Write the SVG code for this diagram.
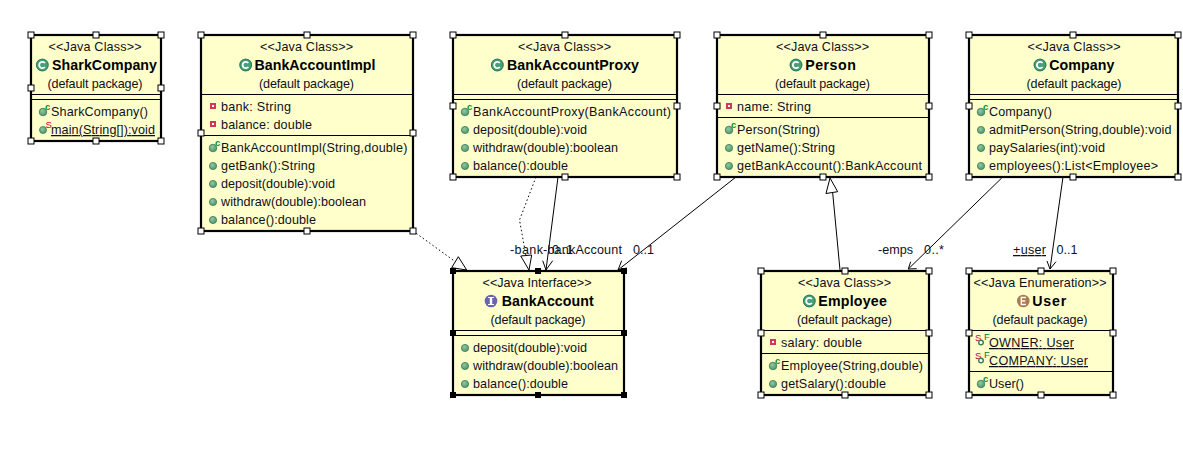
<svg xmlns="http://www.w3.org/2000/svg" width="1183" height="466" viewBox="0 0 1183 466">
<style>
text{font-family:"Liberation Sans",Arial,sans-serif;font-size:12.6px;fill:#10101a}
.c{text-anchor:middle}
.n{font-weight:700;font-size:14.200px;fill:#000}
.u{text-decoration:underline}
.box{fill:#ffffcc;stroke:#000;stroke-width:2.200}
.sep{stroke:#000;stroke-width:1;fill:none}
.h{fill:#fff;stroke:#000;stroke-width:1}
.hb{fill:#000;stroke:#000;stroke-width:1}
.ln{stroke:#000;stroke-width:1;fill:none}
.dot{stroke:#000;stroke-width:1;fill:none;stroke-dasharray:1.5 2.5}
.tri{stroke:#000;stroke-width:1;fill:#fff}
.sup{font-size:9.500px;font-weight:700}
</style>
<defs>
<radialGradient id="g" cx="40%" cy="35%" r="70%"><stop offset="0" stop-color="#8fc8a4"/><stop offset="1" stop-color="#4a9468"/></radialGradient>
<g id="m"><circle r="3.600" fill="url(#g)" stroke="#3b7d57" stroke-width="0.800"/></g>
<g id="ctor"><circle cy="1" r="3.800" fill="url(#g)" stroke="#3b7d57" stroke-width="0.800"/><text x="2" y="-1" class="sup" style="fill:#0a8a3a">c</text></g>
<g id="st"><circle cy="1" r="3.500" fill="url(#g)" stroke="#3b7d57" stroke-width="0.800"/><text x="2.500" y="-1" class="sup" style="fill:#c4003a;font-weight:400">S</text></g>
<g id="sf"><text x="-6" y="1" class="sup" style="fill:#c4003a;font-weight:400">S</text><circle cx="0" cy="2.500" r="2.300" fill="#fff" stroke="#3b7d57" stroke-width="1.400"/><text x="3" y="0" class="sup" style="fill:#0a7a3a;font-weight:400">F</text></g>
<g id="p"><rect x="-3" y="-3" width="6" height="6" fill="#d0385a"/><rect x="-1" y="-1" width="2" height="2" fill="#fff"/></g>
<g id="cl"><circle r="6.300" fill="#45a078"/><circle r="5.900" fill="none" stroke="#2a6f50" stroke-width="0.800"/><path d="M2.600-2A3.200 3.200 0 1 0 2.600 2" fill="none" stroke="#fff" stroke-width="1.800"/></g>
<rect id="hd" x="-3" y="-3" width="6" height="6" class="h"/>
<rect id="hk" x="-2.500" y="-2.500" width="5" height="5" class="hb"/>
</defs>
<rect width="1183" height="466" fill="#fff"/>

<g id="connectors">
<path class="dot" d="M413 231L464 268"/>
<path class="tri" d="M458.300 256.700L451.700 267.700L466.700 270Z"/>
<path class="dot" d="M536 177L519.500 220L526 256"/>
<path class="tri" d="M520.700 256L531.700 255L529 270Z"/>
<path class="ln" d="M558 177L546 270M542.700 260.700L546 270L552.700 260.700"/>
<path class="ln" d="M736 177L618 270M621.700 260.700L618 270L627 268"/>
<path class="ln" d="M1001.700 178L908.300 269M910.700 261.700L908.300 269L916.700 268.700"/>
<path class="ln" d="M1063 177L1050 269M1047 261L1050 269L1056 261.700"/>
<path class="ln" d="M840 270L832.700 193"/>
<path class="tri" d="M830 178L826 193.500L837.700 191.700Z"/>
<text x="510" y="254" textLength="33">-bank</text>
<text x="543" y="254" textLength="79">-bankAccount</text>
<text x="552" y="254" textLength="21">0..1</text>
<text x="633" y="254" textLength="21">0..1</text>
<text x="878" y="254" textLength="35">-emps</text>
<text x="924" y="254" textLength="20">0..*</text>
<text x="1013" y="254" class="u" textLength="33">+user</text>
<text x="1056.500" y="254" textLength="21">0..1</text>
</g>

<g id="SharkCompany">
<rect class="box" x="31" y="35" width="130" height="106"/>
<path class="sep" d="M31 94.500H161M31 99.500H161"/>
<text class="c" x="95" y="51" textLength="93">&lt;&lt;Java Class&gt;&gt;</text>
<use href="#cl" x="42.300" y="65"/>
<text x="52" y="70" class="n" textLength="105">SharkCompany</text>
<text class="c" x="95" y="88" textLength="95">(default package)</text>
<use href="#ctor" x="43" y="111"/><text x="51" y="116" textLength="97">SharkCompany()</text>
<use href="#st" x="43" y="129"/><text x="51" y="134" class="u" textLength="104">main(String[]):void</text>
<use href="#hd" x="31" y="35"/><use href="#hd" x="96" y="35"/><use href="#hd" x="161" y="35"/><use href="#hd" x="31" y="88"/><use href="#hd" x="161" y="88"/><use href="#hd" x="31" y="141"/><use href="#hd" x="96" y="141"/><use href="#hd" x="161" y="141"/>
</g>

<g id="BankAccountImpl">
<rect class="box" x="201" y="35" width="212" height="196"/>
<path class="sep" d="M201 94.500H413M201 135.500H413"/>
<text class="c" x="306.500" y="51" textLength="93">&lt;&lt;Java Class&gt;&gt;</text>
<use href="#cl" x="245.700" y="65"/>
<text x="254.500" y="70" class="n" textLength="121">BankAccountImpl</text>
<text class="c" x="306.500" y="88" textLength="95">(default package)</text>
<use href="#p" x="213" y="106"/><text x="221" y="111" textLength="70">bank: String</text>
<use href="#p" x="213" y="124"/><text x="221" y="129" textLength="91">balance: double</text>
<use href="#ctor" x="213" y="147"/><text x="221" y="152" textLength="186.500">BankAccountImpl(String,double)</text>
<use href="#m" x="213" y="166"/><text x="221" y="170" textLength="94">getBank():String</text>
<use href="#m" x="213" y="184"/><text x="221" y="188" textLength="114">deposit(double):void</text>
<use href="#m" x="213" y="202"/><text x="221" y="206" textLength="145">withdraw(double):boolean</text>
<use href="#m" x="213" y="220"/><text x="221" y="224" textLength="95">balance():double</text>
<use href="#hd" x="201" y="35"/><use href="#hd" x="307" y="35"/><use href="#hd" x="413" y="35"/><use href="#hd" x="201" y="133"/><use href="#hd" x="413" y="133"/><use href="#hd" x="201" y="231"/><use href="#hd" x="307" y="231"/><use href="#hd" x="413" y="231"/>
</g>

<g id="BankAccountProxy">
<rect class="box" x="453" y="35" width="224" height="142"/>
<path class="sep" d="M453 94.500H677M453 99.500H677"/>
<text class="c" x="564.500" y="51" textLength="93">&lt;&lt;Java Class&gt;&gt;</text>
<use href="#cl" x="497.300" y="65"/>
<text x="507" y="70" class="n" textLength="132">BankAccountProxy</text>
<text class="c" x="564.500" y="88" textLength="95">(default package)</text>
<use href="#ctor" x="465" y="111"/><text x="473" y="116" textLength="198">BankAccountProxy(BankAccount)</text>
<use href="#m" x="465" y="130"/><text x="473" y="134" textLength="114">deposit(double):void</text>
<use href="#m" x="465" y="148"/><text x="473" y="152" textLength="145">withdraw(double):boolean</text>
<use href="#m" x="465" y="166"/><text x="473" y="170" textLength="95">balance():double</text>
<use href="#hd" x="453" y="35"/><use href="#hd" x="565" y="35"/><use href="#hd" x="677" y="35"/><use href="#hd" x="453" y="106"/><use href="#hd" x="677" y="106"/><use href="#hd" x="453" y="177"/><use href="#hd" x="565" y="177"/><use href="#hd" x="677" y="177"/>
</g>

<g id="Person">
<rect class="box" x="717" y="35" width="212" height="142"/>
<path class="sep" d="M717 94.500H929M717 117.500H929"/>
<text class="c" x="822.500" y="51" textLength="93">&lt;&lt;Java Class&gt;&gt;</text>
<use href="#cl" x="796" y="65"/>
<text x="805.300" y="70" class="n" textLength="50.500">Person</text>
<text class="c" x="822.500" y="88" textLength="95">(default package)</text>
<use href="#p" x="729" y="106"/><text x="737" y="111" textLength="74">name: String</text>
<use href="#ctor" x="729" y="129"/><text x="737" y="134" textLength="83">Person(String)</text>
<use href="#m" x="729" y="148"/><text x="737" y="152" textLength="98">getName():String</text>
<use href="#m" x="729" y="166"/><text x="737" y="170" textLength="185">getBankAccount():BankAccount</text>
<use href="#hd" x="717" y="35"/><use href="#hd" x="823" y="35"/><use href="#hd" x="929" y="35"/><use href="#hd" x="717" y="106"/><use href="#hd" x="929" y="106"/><use href="#hd" x="717" y="177"/><use href="#hd" x="823" y="177"/><use href="#hd" x="929" y="177"/>
</g>

<g id="Company">
<rect class="box" x="969" y="35" width="209" height="142"/>
<path class="sep" d="M969 94.500H1178M969 99.500H1178"/>
<text class="c" x="1074" y="51" textLength="93">&lt;&lt;Java Class&gt;&gt;</text>
<use href="#cl" x="1040" y="65"/>
<text x="1049.300" y="70" class="n" textLength="65">Company</text>
<text class="c" x="1074" y="88" textLength="95">(default package)</text>
<use href="#ctor" x="981" y="111"/><text x="989" y="116" textLength="63">Company()</text>
<use href="#m" x="981" y="130"/><text x="989" y="134" textLength="182.500">admitPerson(String,double):void</text>
<use href="#m" x="981" y="148"/><text x="989" y="152" textLength="116">paySalaries(int):void</text>
<use href="#m" x="981" y="166"/><text x="989" y="170" textLength="169">employees():List&lt;Employee&gt;</text>
<use href="#hd" x="969" y="35"/><use href="#hd" x="1073" y="35"/><use href="#hd" x="1178" y="35"/><use href="#hd" x="969" y="106"/><use href="#hd" x="1178" y="106"/><use href="#hd" x="969" y="177"/><use href="#hd" x="1073" y="177"/><use href="#hd" x="1178" y="177"/>
</g>

<g id="BankAccount">
<rect class="box" x="453" y="271" width="171" height="124"/>
<path class="sep" d="M453 330.500H624M453 335.500H624"/>
<text class="c" x="537" y="287" textLength="109">&lt;&lt;Java Interface&gt;&gt;</text>
<circle cx="491" cy="301" r="6.300" fill="#6a63b5"/><rect x="489.800" y="297.500" width="2.400" height="7" fill="#fff"/><path d="M488 297.500H494M488 304.500H494" stroke="#fff"/>
<text x="501.700" y="306" class="n" textLength="92">BankAccount</text>
<text class="c" x="538" y="324" textLength="95">(default package)</text>
<use href="#m" x="465" y="348"/><text x="473" y="352" textLength="114">deposit(double):void</text>
<use href="#m" x="465" y="366"/><text x="473" y="370" textLength="145">withdraw(double):boolean</text>
<use href="#m" x="465" y="384"/><text x="473" y="388" textLength="95">balance():double</text>
<use href="#hk" x="453" y="271"/><use href="#hk" x="538" y="271"/><use href="#hk" x="624" y="271"/><use href="#hk" x="453" y="333"/><use href="#hk" x="624" y="333"/><use href="#hk" x="453" y="395"/><use href="#hk" x="538" y="395"/><use href="#hk" x="624" y="395"/>
</g>

<g id="Employee">
<rect class="box" x="761" y="271" width="168" height="124"/>
<path class="sep" d="M761 330.500H929M761 353.500H929"/>
<text class="c" x="844.500" y="287" textLength="93">&lt;&lt;Java Class&gt;&gt;</text>
<use href="#cl" x="809.300" y="301"/>
<text x="818.300" y="306" class="n" textLength="68.500">Employee</text>
<text class="c" x="844.500" y="324" textLength="95">(default package)</text>
<use href="#p" x="773" y="342"/><text x="781" y="347" textLength="81">salary: double</text>
<use href="#ctor" x="773" y="365"/><text x="781" y="370" textLength="142">Employee(String,double)</text>
<use href="#m" x="773" y="384"/><text x="781" y="388" textLength="105">getSalary():double</text>
<use href="#hd" x="761" y="271"/><use href="#hd" x="845" y="271"/><use href="#hd" x="929" y="271"/><use href="#hd" x="761" y="333"/><use href="#hd" x="929" y="333"/><use href="#hd" x="761" y="395"/><use href="#hd" x="845" y="395"/><use href="#hd" x="929" y="395"/>
</g>

<g id="User">
<rect class="box" x="969" y="271" width="144" height="124"/>
<path class="sep" d="M969 330.500H1113M969 371.500H1113"/>
<text class="c" x="1040" y="287" textLength="133">&lt;&lt;Java Enumeration&gt;&gt;</text>
<circle cx="1023.300" cy="301" r="6.300" fill="#a87b50"/><path d="M1026 297.500H1021.300V304.500H1026M1021.300 301H1025.300" fill="none" stroke="#fff" stroke-width="1.400"/>
<text x="1032.300" y="306" class="n" textLength="34">User</text>
<text class="c" x="1040" y="324" textLength="95">(default package)</text>
<use href="#sf" x="981" y="340"/><text x="989" y="347" class="u" textLength="85">OWNER: User</text>
<use href="#sf" x="981" y="358"/><text x="989" y="365" class="u" textLength="99">COMPANY: User</text>
<use href="#ctor" x="981" y="383"/><text x="989" y="388" textLength="35">User()</text>
<use href="#hd" x="969" y="271"/><use href="#hd" x="1041" y="271"/><use href="#hd" x="1113" y="271"/><use href="#hd" x="969" y="333"/><use href="#hd" x="1113" y="333"/><use href="#hd" x="969" y="395"/><use href="#hd" x="1041" y="395"/><use href="#hd" x="1113" y="395"/>
</g>
</svg>
